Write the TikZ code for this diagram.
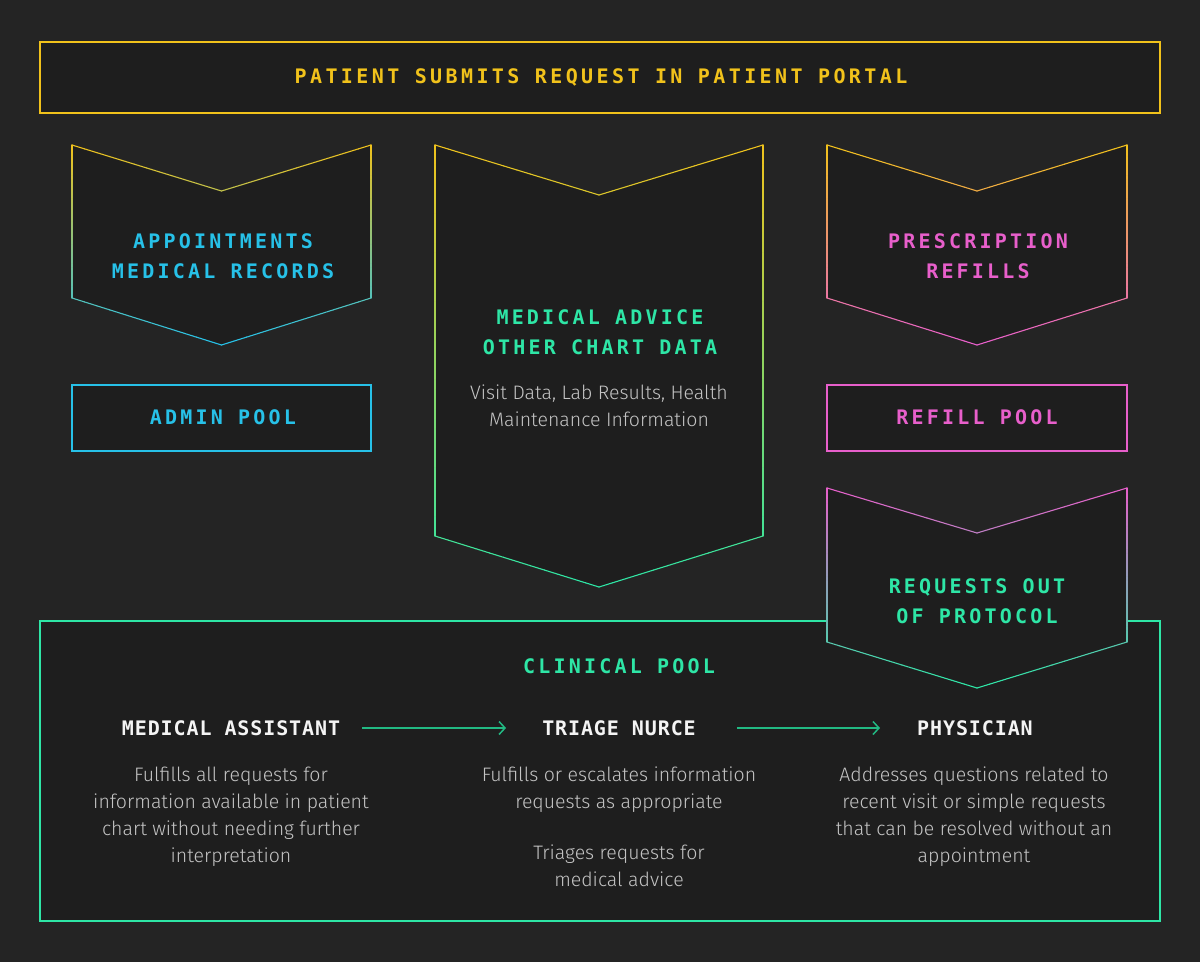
\documentclass[tikz,border=0pt]{standalone}
\usepackage{fontspec}
\usetikzlibrary{arrows.meta}
\newfontfamily\monof{DejaVu Sans Mono}[LetterSpace=16]
\newfontfamily\monot{DejaVu Sans Mono}[LetterSpace=17]
\newfontfamily\monow{DejaVu Sans Mono}[LetterSpace=4.5]
\newfontfamily\bodyf{Fira Sans Light}
\definecolor{bgc}{HTML}{242424}
\definecolor{boxc}{HTML}{1E1E1E}
\definecolor{ylw}{HTML}{F1C21B}
\definecolor{cyn}{HTML}{27C1E8}
\definecolor{grn}{HTML}{2EE6A6}
\definecolor{pnk}{HTML}{E85FCB}
\definecolor{grayc}{HTML}{C4C4C4}
\definecolor{whc}{HTML}{F4F4F4}
\definecolor{arrc}{HTML}{22B983}
\tikzset{
 hd/.style={font=\monof\bfseries\fontsize{20}{30}\selectfont, align=center, inner sep=0pt},
 hdt/.style={font=\monot\bfseries\fontsize{20}{30}\selectfont, align=center, inner sep=0pt},
 wh/.style={font=\monow\bfseries\fontsize{20}{30}\selectfont, text=whc, inner sep=0pt},
 body/.style={font=\bodyf\fontsize{19.5}{27}\selectfont, text=grayc, align=center, inner sep=0pt},
 arr/.style={draw=arrc, line width=1.5pt, -{Straight Barb[length=6pt,width=13pt]}},
 pbox/.style={line width=1.1pt, fill=boxc},
 gline/.style={line width=1.1pt, line cap=round}
}
% gradient segment: #1 xa, #2 ya, #3 xb, #4 yb, #5 pieces; uses \gyt \gyb \gct \gcb
\newcommand\gseg[5]{%
 \foreach \k in {1,...,#5}{%
   \pgfmathsetmacro\sa{(\k-1)/#5}%
   \pgfmathsetmacro\sb{\k/#5}%
   \pgfmathsetmacro\ymid{#2+(#4-#2)*(\k-0.5)/#5}%
   \pgfmathtruncatemacro\p{(\gyb-\ymid)/(\gyb-\gyt)*100}%
   \draw[gline, color={\gct!\p!\gcb}] ({#1+(#3-#1)*\sa},{#2+(#4-#2)*\sa}) -- ({#1+(#3-#1)*\sb},{#2+(#4-#2)*\sb});
 }%
}
% #1 xl, #2 xr, #3 ytop, #4 ynotch, #5 yside, #6 ybot, #7 top colour, #8 bottom colour
\newcommand\gradchev[8]{%
 \pgfmathsetmacro\xm{(#1+#2)/2}%
 \def\gyt{#3}\def\gyb{#6}\def\gct{#7}\def\gcb{#8}%
 \fill[boxc] (#1,#3) -- (\xm,#4) -- (#2,#3) -- (#2,#5) -- (\xm,#6) -- (#1,#5) -- cycle;
 \gseg{#1}{#3}{\xm}{#4}{12}
 \gseg{\xm}{#4}{#2}{#3}{12}
 \gseg{#2}{#3}{#2}{#5}{40}
 \gseg{#2}{#5}{\xm}{#6}{12}
 \gseg{\xm}{#6}{#1}{#5}{12}
 \gseg{#1}{#5}{#1}{#3}{40}
}
\begin{document}
\begin{tikzpicture}[x=1pt,y=-1pt]
\fill[bgc] (0,0) rectangle (1200,962);
\useasboundingbox (0,0) rectangle (1200,962);

% top box
\draw[pbox, draw=ylw] (40,42) rectangle (1160,113);
\node[hdt, text=ylw] (top) at (601,77) {PATIENT SUBMITS REQUEST IN PATIENT PORTAL};

% left chevron
\gradchev{72}{371}{145}{191}{298}{345}{ylw}{cyn}
\node[hd, text=cyn] (appt) at (223,256) {APPOINTMENTS\\MEDICAL RECORDS};

% admin pool
\draw[pbox, draw=cyn] (72,385) rectangle (371,451);
\node[hd, text=cyn] (admin) at (223,417) {ADMIN POOL};

% middle chevron
\gradchev{435}{763}{145}{195}{536}{587}{ylw}{grn}
\node[hd, text=grn] (adv) at (600,332) {MEDICAL ADVICE\\OTHER CHART DATA};
\node[body] (advb) at (599,406) {Visit Data, Lab Results, Health\\Maintenance Information};

% right chevron
\gradchev{827}{1127}{145}{191}{298}{345}{ylw}{pnk}
\node[hd, text=pnk] (rx) at (978,256) {PRESCRIPTION\\REFILLS};

% refill pool
\draw[pbox, draw=pnk] (827,385) rectangle (1127,451);
\node[hd, text=pnk] (refill) at (977,417) {REFILL POOL};

% clinical pool
\draw[pbox, draw=grn] (40,621) rectangle (1160,921);
\node[hd, text=grn] (clin) at (619,666) {CLINICAL POOL};

% out of protocol chevron
\gradchev{827}{1127}{488}{533}{642}{688}{pnk}{grn}
\node[hd, text=grn] (oop) at (977,601) {REQUESTS OUT\\OF PROTOCOL};

% roles
\node[wh] (ma) at (231,728) {MEDICAL ASSISTANT};
\node[wh] (tn) at (619,728) {TRIAGE NURCE};
\node[wh] (ph) at (975,728) {PHYSICIAN};
\draw[arr, shorten <=22pt, shorten >=36pt] (ma) -- (tn);
\draw[arr, shorten <=41pt, shorten >=37pt] (tn) -- (ph);

\node[body] (mab) at (231,817) {Fulfills all requests for\\information available in patient\\chart without needing further\\interpretation};
\node[body] (tnb1) at (619,790) {Fulfills or escalates information\\requests as appropriate};
\node[body] (tnb2) at (619,866) {Triages requests for\\medical advice};
\node[body] (phb) at (974,817) {Addresses questions related to\\recent visit or simple requests\\that can be resolved without an\\appointment};
\end{tikzpicture}
\end{document}
